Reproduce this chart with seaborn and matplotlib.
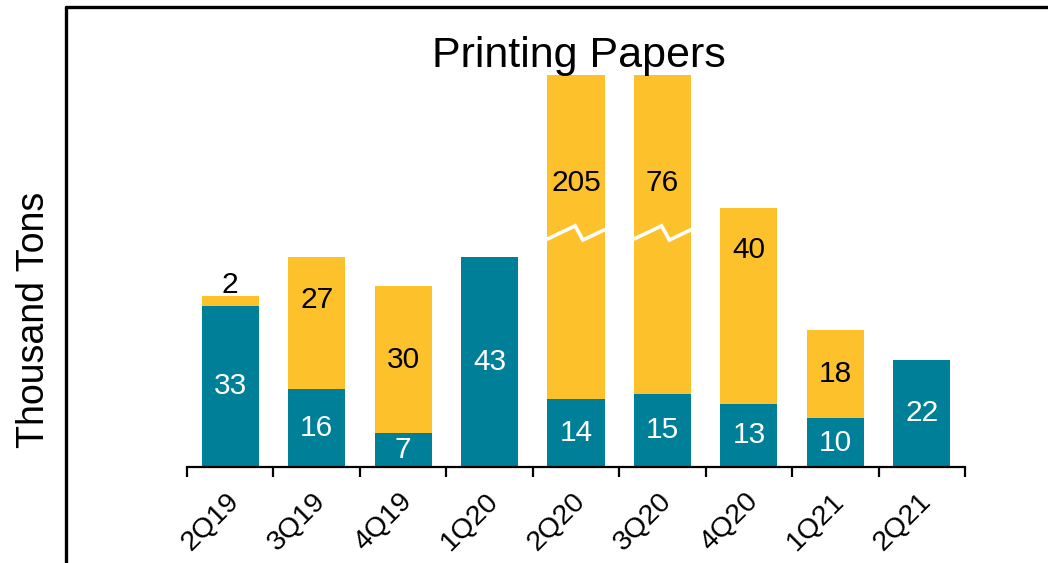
import numpy as np
import pandas as pd
import matplotlib
matplotlib.use("Agg")
import matplotlib.pyplot as plt
from matplotlib.lines import Line2D
from matplotlib.transforms import ScaledTranslation
import seaborn as sns

# Quarterly data (thousand tons)
quarters = ["2Q19", "3Q19", "4Q19", "1Q20", "2Q20", "3Q20", "4Q20", "1Q21", "2Q21"]
base_values = [33, 16, 7, 43, 14, 15, 13, 10, 22]
upper_values = [2, 27, 30, 0, 205, 76, 40, 18, 0]
# quarters whose upper segment runs off the scale and is drawn broken
broken = [False, False, False, False, True, True, False, False, False]

TEAL = "#007F99"
YELLOW = "#FDC22B"

sns.set_theme(style="white")
plt.rcParams["font.family"] = ["Liberation Sans", "DejaVu Sans"]

df = pd.DataFrame({
    "quarter": quarters,
    "base": base_values,
    "total": np.array(base_values) + np.array(upper_values),
})

fig = plt.figure(figsize=(10.48, 5.63), dpi=100)
ax = fig.add_axes([0.1784, 0.1705, 0.7424, 0.6963])

bar_w = 0.66
sns.barplot(data=df, x="quarter", y="total", color=YELLOW, width=bar_w,
            saturation=1, ax=ax, edgecolor="none")
sns.barplot(data=df, x="quarter", y="base", color=TEAL, width=bar_w,
            saturation=1, ax=ax, edgecolor="none")

ymax = 80.3
ax.set_ylim(0, ymax)
ax.set_xlim(-0.5, len(quarters) - 0.5)

# value labels
label_fs = 21.5
for i, (b, u) in enumerate(zip(base_values, upper_values)):
    ax.text(i, b / 2, str(b), ha="center", va="center", color="white",
            fontsize=label_fs)
    if u == 0:
        continue
    if broken[i]:
        y = 58.2
    elif u < 5:
        y = b + u + 2.2
    elif i == 1:
        y = 34.2
    elif i == 6:
        y = 44.5
    else:
        y = b + u / 2
    ax.text(i, y, str(u), ha="center", va="center", color="black",
            fontsize=label_fs)

# break marks on off-scale bars
for i, br in enumerate(broken):
    if br:
        xs = [i - bar_w / 2, i - 0.01, i + 0.08, i + bar_w / 2]
        ys = [46.7, 49.4, 46.5, 48.6]
        ax.plot(xs, ys, color="white", lw=2.6, solid_joinstyle="miter",
                clip_on=False, zorder=5)

# axes styling
for s in ["left", "right", "top"]:
    ax.spines[s].set_visible(False)
ax.spines["bottom"].set_color("black")
ax.spines["bottom"].set_linewidth(1.6)
ax.set_yticks([])
ax.set_xlabel("")
ax.set_ylabel("")
ax.set_xticks(range(len(quarters)))
ax.set_xticks(np.arange(-0.5, len(quarters)), minor=True)
ax.tick_params(axis="x", which="major", length=0, pad=15)
ax.tick_params(axis="x", which="minor", length=7, width=1.6, color="black",
               direction="out", bottom=True)
ax.set_xticklabels(quarters, rotation=45, ha="right", va="top",
                   rotation_mode="anchor", fontsize=20.5, color="black")
shift = ScaledTranslation(-0.04, 0, fig.dpi_scale_trans)
for lbl in ax.get_xticklabels():
    lbl.set_transform(lbl.get_transform() + shift)

fig.text(578.5 / 1048, 1 - 67 / 563, "Printing Papers", ha="center",
         va="baseline", fontsize=31, color="black")
fig.text(34 / 1048, 1 - 320 / 563, "Thousand Tons", ha="center",
         va="center", rotation=90, fontsize=27, color="black")

# page frame
fig.add_artist(Line2D([65.5 / 1048, 1.0], [1 - 6.5 / 563] * 2,
                      transform=fig.transFigure, color="black", lw=2.4))
fig.add_artist(Line2D([65.5 / 1048] * 2, [0, 1 - 6.5 / 563],
                      transform=fig.transFigure, color="black", lw=2.4))

fig.savefig("out.png", dpi=100)
